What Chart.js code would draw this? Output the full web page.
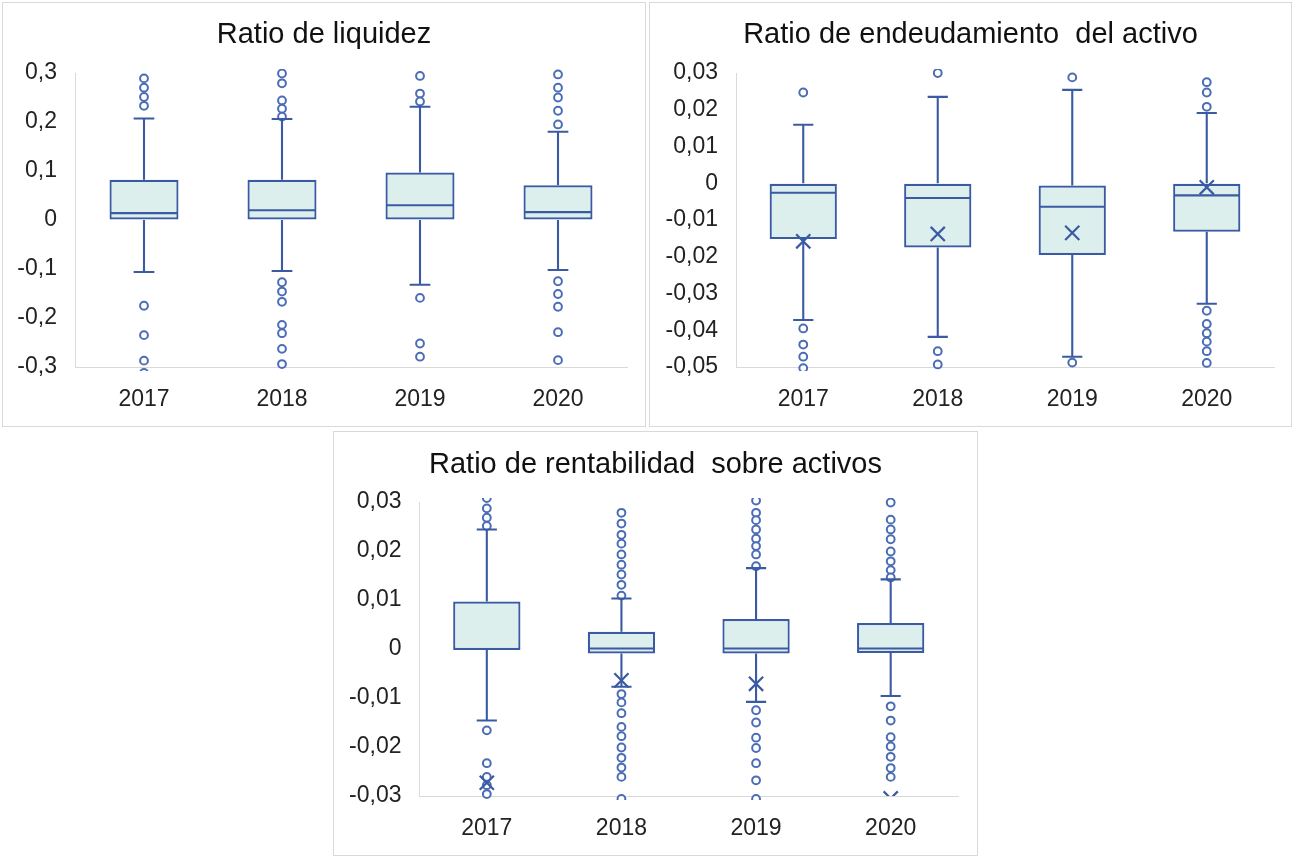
<!DOCTYPE html>
<html><head><meta charset="utf-8">
<script src="https://cdn.jsdelivr.net/npm/chart.js@4.4.1/dist/chart.umd.min.js"></script>
<style>
html,body{margin:0;padding:0;background:#fff;}
body{width:1293px;height:857px;position:relative;overflow:hidden;}
.panel{position:absolute;border:1px solid #d9d9d9;background:#fff;}
.panel canvas{display:block;}
</style></head><body>
<div class="panel" style="left:2px;top:2px;width:642px;height:423px"><canvas id="c1" width="642" height="423"></canvas></div>
<div class="panel" style="left:649px;top:2px;width:641px;height:423px"><canvas id="c2" width="641" height="423"></canvas></div>
<div class="panel" style="left:333px;top:431px;width:643px;height:423px"><canvas id="c3" width="643" height="423"></canvas></div>
<script>
const categories = ['2017', '2018', '2019', '2020'];

// Ratio de liquidez
const liqTitle = 'Ratio de liquidez';
const liqTickValues = [-0.3, -0.2, -0.1, 0, 0.1, 0.2, 0.3];
const liqTickLabels = ['-0,3', '-0,2', '-0,1', '0', '0,1', '0,2', '0,3'];
const liqMin = [-0.106, -0.104, -0.132, -0.102];
const liqQ1 = [0, 0, 0, 0];
const liqMedian = [0.014, 0.020, 0.030, 0.016];
const liqQ3 = [0.082, 0.082, 0.097, 0.071];
const liqMax = [0.207, 0.206, 0.231, 0.180];
const liqOutliers = [
  [0.313, 0.289, 0.270, 0.251, 0.233, -0.175, -0.235, -0.287, -0.312],
  [0.299, 0.279, 0.244, 0.227, 0.211, -0.127, -0.146, -0.167, -0.214, -0.231, -0.263, -0.294],
  [0.294, 0.258, 0.242, -0.159, -0.252, -0.279],
  [0.297, 0.270, 0.250, 0.223, 0.195, -0.125, -0.151, -0.177, -0.229, -0.286]
];

// Ratio de endeudamiento del activo
const endTitle = 'Ratio de endeudamiento  del activo';
const endTickValues = [-0.05, -0.04, -0.03, -0.02, -0.01, 0, 0.01, 0.02, 0.03];
const endTickLabels = ['-0,05', '-0,04', '-0,03', '-0,02', '-0,01', '0', '0,01', '0,02', '0,03'];
const endMin = [-0.0372, -0.0418, -0.0472, -0.0328];
const endQ1 = [-0.0152, -0.0175, -0.0195, -0.0132];
const endMedian = [-0.0026, -0.0040, -0.0064, -0.0033];
const endQ3 = [0, 0, -0.0006, 0];
const endMax = [0.0159, 0.0235, 0.0254, 0.0191];
const endMean = [-0.0158, -0.0138, -0.0135, -0.0011];
const endOutliers = [
  [0.0247, -0.0395, -0.0439, -0.0472, -0.0503],
  [0.0300, -0.0457, -0.0493],
  [0.0288, -0.0488],
  [0.0275, 0.0247, 0.0208, -0.0347, -0.0383, -0.0408, -0.0431, -0.0457, -0.0489]
];

// Ratio de rentabilidad sobre activos
const renTitle = 'Ratio de rentabilidad  sobre activos';
const renTickValues = [-0.03, -0.02, -0.01, 0, 0.01, 0.02, 0.03];
const renTickLabels = ['-0,03', '-0,02', '-0,01', '0', '0,01', '0,02', '0,03'];
const renMin = [-0.0146, -0.0077, -0.0108, -0.0096];
const renQ1 = [-0.0002, -0.0009, -0.0009, -0.0008];
const renMedian = [0.0000, 0.0001, 0.0001, 0.0001];
const renQ3 = [0.0097, 0.0035, 0.0061, 0.0053];
const renMax = [0.0244, 0.0103, 0.0165, 0.0142];
const renMean = [-0.0273, -0.0064, -0.0071, -0.0305];
const renOutliers = [
  [0.0308, 0.0287, 0.0268, 0.0251, -0.0166, -0.0233, -0.0261, -0.0278, -0.0296],
  [0.0278, 0.0256, 0.0233, 0.0215, 0.0193, 0.0172, 0.0152, 0.0131, 0.0109,
   -0.0092, -0.0109, -0.0131, -0.0159, -0.0178, -0.0201, -0.0222, -0.0242, -0.0261, -0.0306],
  [0.0303, 0.0278, 0.0263, 0.0244, 0.0225, 0.0210, 0.0193, 0.0169,
   -0.0125, -0.0150, -0.0181, -0.0202, -0.0233, -0.0268, -0.0306],
  [0.0299, 0.0264, 0.0244, 0.0224, 0.0199, 0.0179, 0.0161, 0.0146,
   -0.0117, -0.0146, -0.0180, -0.0199, -0.0220, -0.0243, -0.0261]
];

const FONT = "'Liberation Sans', Arial, sans-serif";
const LINE = '#3A5BA3';
const DOT = '#4A6DB5';
const FILL = '#DCEFEC';
const TEXT = '#222222';
const AXIS = '#D9D9D9';
const TITLE_SIZE = 29;

function boxChart(id, s) {
  const points = arr => categories.flatMap((c, i) => arr[i].map(v => ({x: c, y: v})));
  const datasets = [
    {type: 'bar', data: categories.map((c, i) => [s.q1[i], s.q3[i]]),
     backgroundColor: FILL, borderColor: LINE, borderWidth: 2.2, borderSkipped: false,
     barPercentage: 0.5, categoryPercentage: 1, order: 3},
    {type: 'line', data: points(s.outliers), showLine: false, pointStyle: 'circle',
     pointRadius: 3.9, pointBorderWidth: 2, pointBackgroundColor: '#ffffff',
     pointBorderColor: DOT, clip: 4, order: 2}
  ];
  if (s.mean) {
    datasets.push({type: 'line', data: categories.map((c, i) => ({x: c, y: s.mean[i]})),
      showLine: false, pointStyle: 'crossRot', pointRadius: 10, pointBorderWidth: 2.2,
      pointBackgroundColor: 'transparent', pointBorderColor: LINE, clip: 0, order: 1});
  }
  const whiskers = {
    id: 'whiskers',
    afterDatasetsDraw(chart) {
      const {ctx, chartArea: a, scales: {x, y}} = chart;
      const meta = chart.getDatasetMeta(0);
      const step = x.getPixelForValue(1) - x.getPixelForValue(0);
      const capHalf = step * 0.075;
      ctx.save();
      ctx.beginPath();
      ctx.rect(a.left, a.top - 2, a.right - a.left, a.bottom - a.top + 4);
      ctx.clip();
      ctx.strokeStyle = LINE;
      ctx.lineWidth = 2.1;
      categories.forEach((c, i) => {
        const cx = x.getPixelForValue(i);
        const half = meta.data[i].width / 2;
        const yMin = y.getPixelForValue(s.min[i]);
        const yMax = y.getPixelForValue(s.max[i]);
        const yQ1 = y.getPixelForValue(s.q1[i]);
        const yQ3 = y.getPixelForValue(s.q3[i]);
        const yMed = y.getPixelForValue(s.median[i]);
        ctx.beginPath();
        ctx.moveTo(cx, yQ3); ctx.lineTo(cx, yMax);
        ctx.moveTo(cx - capHalf, yMax); ctx.lineTo(cx + capHalf, yMax);
        ctx.moveTo(cx, yQ1); ctx.lineTo(cx, yMin);
        ctx.moveTo(cx - capHalf, yMin); ctx.lineTo(cx + capHalf, yMin);
        ctx.moveTo(cx - half + 1, yMed); ctx.lineTo(cx + half - 1, yMed);
        ctx.stroke();
      });
      ctx.restore();
    }
  };
  const lh = TITLE_SIZE * 1.2;
  return new Chart(document.getElementById(id), {
    type: 'bar',
    data: {labels: categories, datasets},
    plugins: [whiskers],
    options: {
      responsive: false,
      animation: false,
      events: [],
      layout: {padding: 0},
      plugins: {
        legend: {display: false},
        tooltip: {enabled: false},
        title: {display: true, text: s.title, color: '#111111',
                font: {family: FONT, size: TITLE_SIZE, weight: 'normal'},
                padding: {top: s.titleTop, bottom: 70 - lh - s.titleTop}}
      },
      scales: {
        x: {type: 'category', offset: true,
            grid: {drawOnChartArea: false, drawTicks: false},
            border: {display: true, color: AXIS, width: 1},
            ticks: {color: TEXT, font: {family: FONT, size: 23}, padding: 19, maxRotation: 0},
            afterFit(sc) { sc.height = 59; }},
        y: {type: 'linear', position: 'left', min: s.tickValues[0], max: s.tickValues[s.tickValues.length - 1],
            grid: {drawOnChartArea: false, drawTicks: false},
            border: {display: true, color: AXIS, width: 1},
            afterBuildTicks(sc) { sc.ticks = s.tickValues.map(v => ({value: v})); },
            ticks: {color: TEXT, font: {family: FONT, size: 23}, padding: 18,
                    callback: (v, i) => s.tickLabels[i]},
            afterFit(sc) { sc.width = s.leftW; }},
        yR: {type: 'linear', position: 'right', display: true,
             grid: {display: false}, border: {display: false}, ticks: {display: false},
             afterFit(sc) { sc.width = s.rightW; }}
      }
    }
  });
}

boxChart('c1', {title: liqTitle, tickValues: liqTickValues, tickLabels: liqTickLabels,
  min: liqMin, q1: liqQ1, median: liqMedian, q3: liqQ3, max: liqMax, outliers: liqOutliers,
  leftW: 72, rightW: 18, titleTop: 15});
boxChart('c2', {title: endTitle, tickValues: endTickValues, tickLabels: endTickLabels,
  min: endMin, q1: endQ1, median: endMedian, q3: endQ3, max: endMax, outliers: endOutliers, mean: endMean,
  leftW: 86, rightW: 17, titleTop: 15});
boxChart('c3', {title: renTitle, tickValues: renTickValues, tickLabels: renTickLabels,
  min: renMin, q1: renQ1, median: renMedian, q3: renQ3, max: renMax, outliers: renOutliers, mean: renMean,
  leftW: 85.5, rightW: 19, titleTop: 15.5});
</script>
</body></html>
